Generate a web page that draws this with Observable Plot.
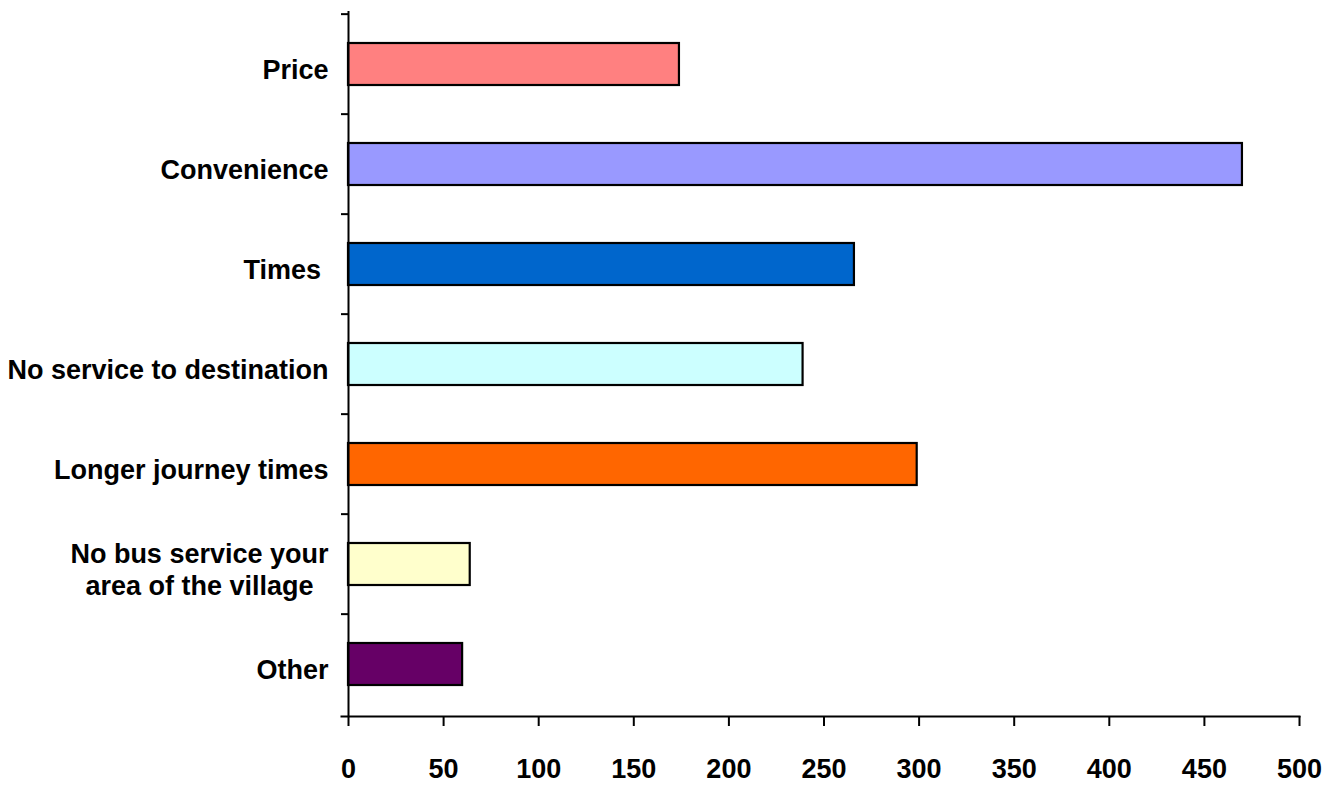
<!DOCTYPE html>
<html>
<head>
<meta charset="utf-8">
<script src="https://cdn.jsdelivr.net/npm/d3@7"></script>
<script src="https://cdn.jsdelivr.net/npm/@observablehq/plot@0.6"></script>
<style>
  html, body { margin: 0; padding: 0; background: #fff; }
  #chart svg { display: block; }
</style>
</head>
<body>
<div id="chart"></div>
<script>
const categories = [
  "Price",
  "Convenience",
  "Times\u00a0",
  "No service to destination",
  "Longer journey times",
  "No bus service your\narea of the village\u00a0\u00a0",
  "Other"
];
const values = [174, 470, 266, 239, 299, 64, 60];
const colors = ["#FF8080", "#9999FF", "#0066CC", "#CCFFFF", "#FF6600", "#FFFFCC", "#660066"];
const xTicks = [0, 50, 100, 150, 200, 250, 300, 350, 400, 450, 500];

const data = categories.map((c, i) => ({category: c, value: values[i], color: colors[i]}));

const W = 1338, H = 785;
const marginTop = 11, marginBottom = 69, marginLeft = 348, marginRight = 39;
const step = (H - marginTop - marginBottom) / categories.length;

const chart = Plot.plot({
  width: W,
  height: H,
  marginTop, marginBottom, marginLeft, marginRight,
  style: {fontFamily: "'Liberation Sans', Arial, sans-serif", fontSize: "27px", fontWeight: "bold", color: "#000", background: "#fff"},
  x: {domain: [0, 500], ticks: xTicks},
  y: {domain: categories, padding: 0},
  marks: [
    Plot.barX(data, {
      y: "category", x: "value", fill: "color",
      stroke: "#000", strokeWidth: 2.2,
      insetTop: 29, insetBottom: 29
    }),
    Plot.ruleX([0], {stroke: "#000", strokeWidth: 2}),
    Plot.frame({anchor: "bottom", stroke: "#000", strokeWidth: 2, insetLeft: -7}),
    Plot.axisX({ticks: xTicks, tickSize: 10, tickPadding: 32, strokeWidth: 2, label: null, fontSize: 27, fontWeight: "bold"}),
    Plot.axisY({tickSize: 7, tickFormat: () => "", dy: -step / 2, strokeWidth: 2, label: null}),
    Plot.axisY({tickSize: 0, tickPadding: 20, dy: 4, label: null, fontSize: 27, fontWeight: "bold", lineHeight: 1.2})
  ]
});

document.getElementById("chart").appendChild(chart);
</script>
</body>
</html>
